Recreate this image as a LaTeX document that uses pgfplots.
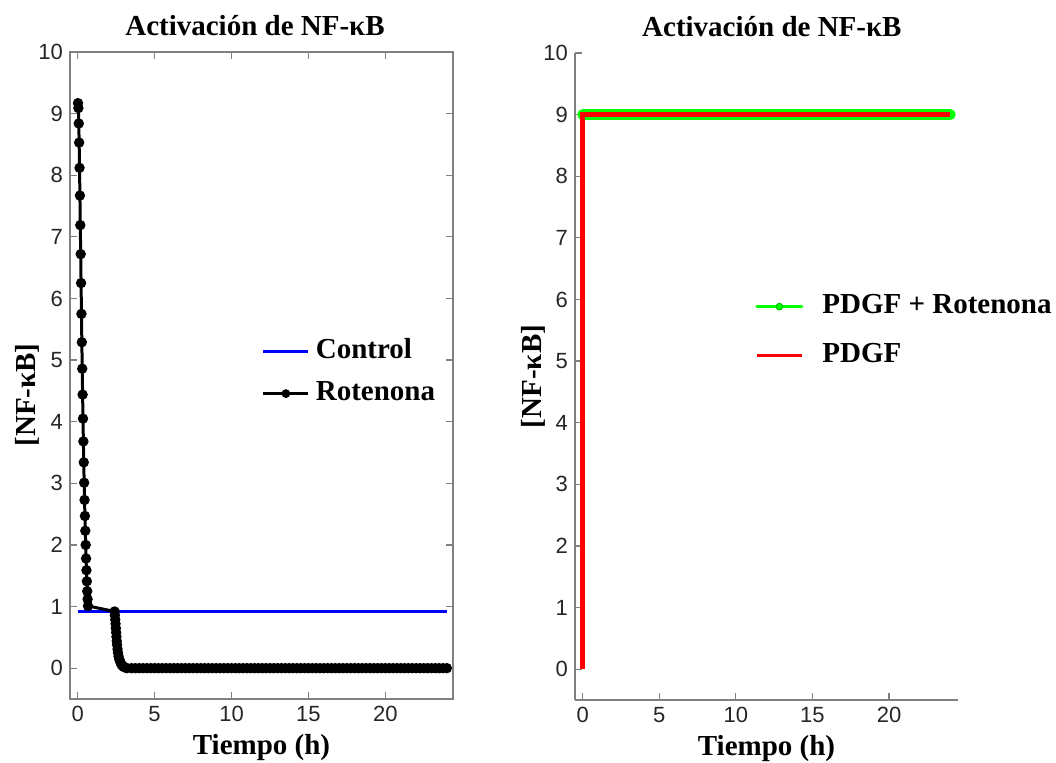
\documentclass[border=0pt]{standalone}
\usepackage{fontspec}
\setmainfont{Liberation Serif}
\setsansfont{Liberation Sans}
\usepackage{pgfplots}
\pgfplotsset{compat=1.18}

\pgfplotsset{
  nfk/.style={
    scale only axis, width=191.5pt, height=323.5pt,
    xmin=-0.5, ymin=-0.5, ymax=10,
    xtick={0,5,10,15,20}, ytick={0,1,2,3,4,5,6,7,8,9,10},
    tick align=inside, major tick length=3.5pt,
    axis line style={draw=black!50, line width=0.6pt},
    every tick/.style={draw=black!50, line width=0.6pt},
    tick label style={font=\fontsize{11}{13}\selectfont\sffamily, text=black!85},
    /pgf/number format/assume math mode=true,
    label style={font=\fontsize{14.5}{17}\selectfont\bfseries},
    title style={font=\fontsize{14.5}{17}\selectfont\bfseries},
    title={Activación de NF-κB},
    xlabel={Tiempo (h)}, ylabel={[NF-κB]},
    xlabel style={at={(axis description cs:0.5,-0.075)}, anchor=center},
    legend cell align=left,
    legend style={draw=none, fill=none, inner sep=0pt,
      font=\fontsize{14.5}{17}\selectfont\bfseries,
      nodes={text height=11pt, text depth=4pt, inner sep=3pt}},
  }
}

\begin{document}
\begin{tikzpicture}
\useasboundingbox (0,0) rectangle (528pt,-381.5pt);

% left panel
\begin{axis}[nfk, at={(35pt,-349.5pt)}, anchor=south west, xmax=24.4,
  title style={at={(axis description cs:0.483,1.023)}, anchor=center},
  ylabel style={at={(axis description cs:-0.11,0.47)}, anchor=center},
  legend style={at={(axis description cs:0.5,0.57)}, anchor=north west}]
\addplot[blue, line width=1.5pt,
  legend image code/.code={\draw[blue, line width=1.5pt] (0pt,0pt) -- (22.5pt,0pt);}]
  coordinates {(0,0.92) (24,0.92)};
\addlegendentry{Control}
\addplot[black, line width=1.5pt, mark=*, mark size=1.8pt,
  legend image code/.code={\draw[black, line width=1.5pt] (0pt,0pt) -- (22.5pt,0pt);
    \fill[black] (11.25pt,0pt) circle (1.4pt);}]
  coordinates {
  (0.02,9.17)(0.045,9.09)(0.07,8.84)(0.095,8.53)(0.12,8.12)(0.145,7.67)
  (0.17,7.19)(0.195,6.72)(0.22,6.25)(0.245,5.75)(0.27,5.29)(0.295,4.86)
  (0.32,4.44)(0.345,4.05)(0.37,3.68)(0.395,3.34)(0.42,3.01)(0.445,2.73)
  (0.47,2.47)(0.495,2.23)(0.52,2.00)(0.545,1.78)(0.57,1.59)(0.595,1.41)
  (0.62,1.25)(0.645,1.12)(0.67,1.01)
  (2.4,0.92)(2.42,0.86)(2.44,0.79)(2.46,0.72)(2.48,0.65)(2.5,0.58)
  (2.52,0.51)(2.54,0.44)(2.56,0.38)(2.59,0.31)(2.62,0.25)(2.66,0.19)
  (2.71,0.14)(2.77,0.10)(2.84,0.06)(2.92,0.035)(3.0,0.02)(3.1,0.01)(3.2,0)
  (3.5,0)(3.75,0)(4,0)(4.25,0)(4.5,0)(4.75,0)(5,0)(5.25,0)(5.5,0)(5.75,0)
  (6,0)(6.25,0)(6.5,0)(6.75,0)(7,0)(7.25,0)(7.5,0)(7.75,0)(8,0)(8.25,0)
  (8.5,0)(8.75,0)(9,0)(9.25,0)(9.5,0)(9.75,0)(10,0)(10.25,0)(10.5,0)(10.75,0)
  (11,0)(11.25,0)(11.5,0)(11.75,0)(12,0)(12.25,0)(12.5,0)(12.75,0)(13,0)(13.25,0)
  (13.5,0)(13.75,0)(14,0)(14.25,0)(14.5,0)(14.75,0)(15,0)(15.25,0)(15.5,0)(15.75,0)
  (16,0)(16.25,0)(16.5,0)(16.75,0)(17,0)(17.25,0)(17.5,0)(17.75,0)(18,0)(18.25,0)
  (18.5,0)(18.75,0)(19,0)(19.25,0)(19.5,0)(19.75,0)(20,0)(20.25,0)(20.5,0)(20.75,0)
  (21,0)(21.25,0)(21.5,0)(21.75,0)(22,0)(22.25,0)(22.5,0)(22.75,0)(23,0)(23.25,0)
  (23.5,0)(23.75,0)(24,0)};
\addlegendentry{Rotenona}
\end{axis}

% right panel
\begin{axis}[nfk, at={(287.5pt,-350pt)}, anchor=south west, xmax=24.5,
  axis x line*=bottom, axis y line*=left,
  title style={at={(axis description cs:0.514,1.023)}, anchor=center},
  ylabel style={at={(axis description cs:-0.109,0.5)}, anchor=center},
  legend style={at={(axis description cs:0.47,0.641)}, anchor=north west,
    row sep=3.5pt, column sep=6.5pt}]
\addplot[green, line width=5.4pt, line cap=round,
  legend image code/.code={\draw[green, line width=1.5pt] (0pt,0pt) -- (22.5pt,0pt);
    \filldraw[fill=green, draw=green!70!black, line width=0.4pt] (11.25pt,0pt) circle (1.7pt);}]
  coordinates {(0,9) (24,9)};
\addlegendentry{PDGF + Rotenona}
\addplot[red, line width=2.4pt,
  legend image code/.code={\draw[red, line width=1.5pt] (0pt,0pt) -- (22.5pt,0pt);}]
  coordinates {(0,0) (0,9) (24,9)};
\addlegendentry{PDGF}
\end{axis}
\end{tikzpicture}
\end{document}
